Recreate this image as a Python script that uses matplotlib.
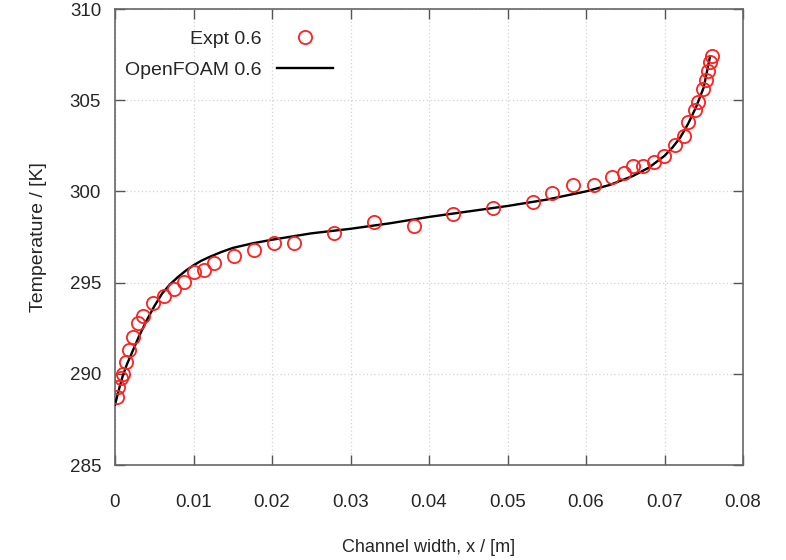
import matplotlib
matplotlib.use("Agg")
import matplotlib.pyplot as plt
from matplotlib.lines import Line2D

plt.rcParams['font.family'] = ['Liberation Sans', 'DejaVu Sans']

# Experimental data (Expt 0.6)
expt_x = [0.00021, 0.00042, 0.00072, 0.00106, 0.0014, 0.00182, 0.00232, 0.00297,
          0.0036, 0.00488, 0.00627, 0.0075, 0.0088, 0.0101, 0.01137, 0.01265,
          0.0151, 0.0177, 0.0203, 0.0228, 0.0279, 0.033, 0.0381, 0.0431,
          0.0482, 0.0532, 0.0557, 0.0584, 0.061, 0.0633, 0.0648, 0.066,
          0.0673, 0.0686, 0.0699, 0.0713, 0.0725, 0.073, 0.0739, 0.0743,
          0.0749, 0.0753, 0.0756, 0.0758, 0.0761]
expt_T = [288.71, 289.29, 289.75, 289.97, 290.66, 291.3, 292.0, 292.77,
          293.17, 293.9, 294.27, 294.63, 295.05, 295.6, 295.7, 296.05,
          296.45, 296.8, 297.15, 297.19, 297.74, 298.3, 298.12, 298.74,
          299.07, 299.44, 299.9, 300.35, 300.35, 300.8, 301.0, 301.4,
          301.4, 301.6, 301.95, 302.54, 303.04, 303.8, 304.45, 304.9,
          305.6, 306.1, 306.6, 307.1, 307.45]

# OpenFOAM 0.6 solution
of_x = [0.0, 0.0003, 0.0006, 0.001, 0.0015, 0.002, 0.003, 0.004, 0.005, 0.006,
        0.007, 0.008, 0.009, 0.010, 0.011, 0.012, 0.0135, 0.015, 0.0175, 0.02,
        0.025, 0.03, 0.035, 0.04, 0.045, 0.05, 0.055, 0.06, 0.063, 0.066,
        0.068, 0.070, 0.071, 0.072, 0.073, 0.074, 0.075, 0.0758]
of_T = [288.3, 288.8, 289.3, 289.9, 290.5, 291.0, 292.0, 292.9, 293.7, 294.4,
        294.9, 295.3, 295.65, 295.95, 296.2, 296.4, 296.67, 296.9, 297.15, 297.35,
        297.7, 297.95, 298.25, 298.6, 298.9, 299.2, 299.55, 300.0, 300.35, 300.85,
        301.3, 301.95, 302.4, 302.95, 303.7, 304.6, 305.7, 307.4]

x_ticks = [0, 0.01, 0.02, 0.03, 0.04, 0.05, 0.06, 0.07, 0.08]
x_tick_labels = ['0', '0.01', '0.02', '0.03', '0.04', '0.05', '0.06', '0.07', '0.08']
y_ticks = [285, 290, 295, 300, 305, 310]

TXT = '#262626'
fig = plt.figure(figsize=(7.86, 5.6), dpi=100)
ax = fig.add_axes([115/786, 1-465/560, 628/786, 456/560])

ax.plot(of_x, of_T, color='black', lw=1.7, zorder=3)
ax.plot(expt_x, expt_T, linestyle='none', marker='o', markersize=9.5,
        markerfacecolor='none', markeredgecolor='#ff2020', markeredgewidth=1.3, zorder=4)

ax.set_xlim(0, 0.08)
ax.set_ylim(285, 310)
ax.set_xticks(x_ticks)
ax.set_xticklabels(x_tick_labels)
ax.set_yticks(y_ticks)
ax.grid(True, color='#d4d4d4', linestyle=(0, (1, 2)), linewidth=0.9)
ax.tick_params(direction='in', length=7, width=1, colors='#555555',
               top=True, right=True, labelsize=13.5, labelcolor=TXT)
ax.tick_params(axis='x', pad=21)
ax.tick_params(axis='y', pad=10)
for s in ax.spines.values():
    s.set_color('#666666')
    s.set_linewidth(1.2)

ax.set_xlabel('Channel width, x / [m]', fontsize=13, color=TXT, labelpad=20)
ax.set_ylabel('Temperature / [K]', fontsize=14, color=TXT, labelpad=16)

# legend (gnuplot style: text then key)
ax.text(0.234, 0.934, 'Expt 0.6', transform=ax.transAxes, ha='right', va='center',
        fontsize=14, color=TXT)
ax.text(0.234, 0.866, 'OpenFOAM 0.6', transform=ax.transAxes, ha='right', va='center',
        fontsize=14, color=TXT)
ax.add_line(Line2D([0.3025], [0.938], transform=ax.transAxes, linestyle='none',
                   marker='o', markersize=9.5, markerfacecolor='none',
                   markeredgecolor='#ff2020', markeredgewidth=1.3))
ax.add_line(Line2D([0.258, 0.347], [0.870, 0.870], transform=ax.transAxes,
                   color='black', lw=1.7))

fig.savefig('out.png', dpi=100)
